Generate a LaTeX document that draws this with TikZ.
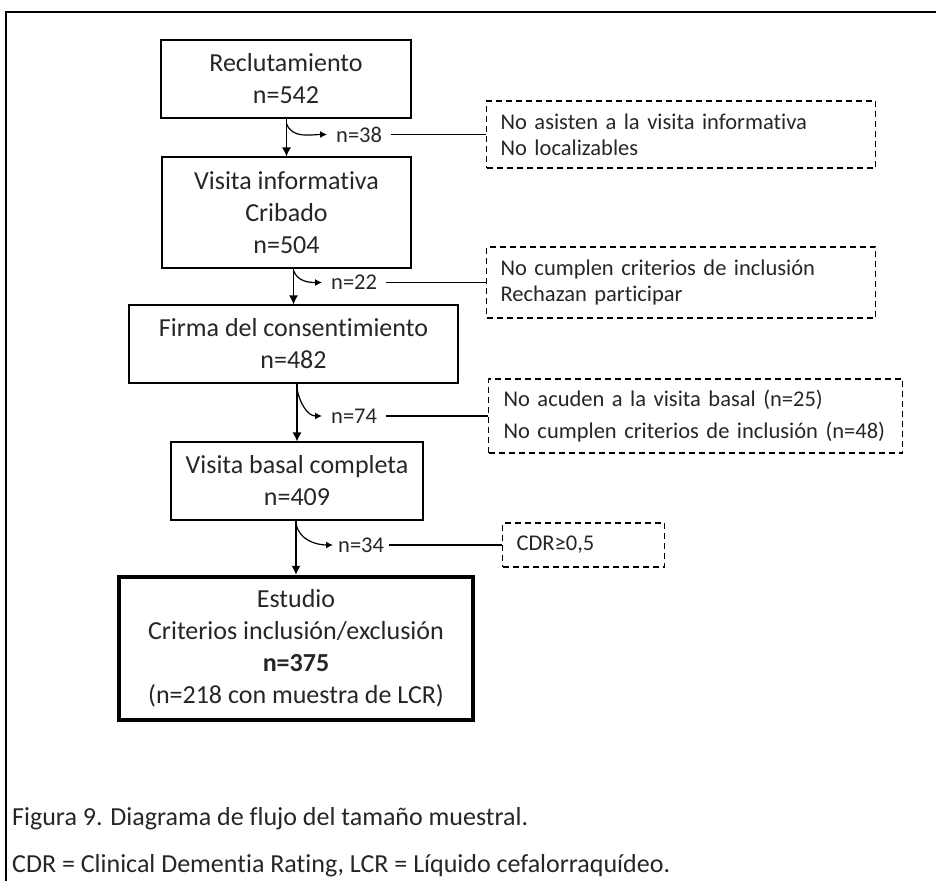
\documentclass[tikz,border=0pt]{standalone}
\usepackage{fontspec}
\setmainfont{Carlito}[RawFeature={-liga;-clig;-dlig;-calt}]
\usepackage{tikz}
\usetikzlibrary{positioning}
\usetikzlibrary{arrows.meta}
\usetikzlibrary{calc}

\tikzset{
stage/.style={draw, line width=1.2pt, align=center, inner sep=0pt, text=black!85, font=\fontsize{26}{32}\selectfont},
lost/.style={draw, dash pattern=on 6pt off 4pt, line width=1.2pt, align=left, inner ysep=0pt, anchor=west, text=black!85, font=\fontsize{22.5}{26}\selectfont},
nlab/.style={inner xsep=9pt, inner ysep=0pt, anchor=west, text=black!85, font=\fontsize{22.5}{26}\selectfont},
flow/.style={-{Latex[length=9pt,width=9pt]}, line width=1.2pt},
exit/.style={-{Latex[length=7pt,width=7pt]}, line width=1.2pt},
note/.style={anchor=base west, inner sep=0pt, text=black!85, font=\fontsize{26}{32}\selectfont}
}

\begin{document}
\begin{tikzpicture}[x=1pt,y=1pt]
\useasboundingbox (0,0) rectangle (936,-881);
\draw[line width=1.5pt] (6,-881) -- (6,-12) -- (936,-12);

\node[stage, minimum width=250pt, minimum height=78pt] (reclut) at (286,-79) {Reclutamiento\\n=542};
\node[stage, minimum width=249pt, minimum height=111pt] (cribado) at (286.5,-212.5) {Visita informativa\\Cribado\\n=504};
\node[stage, minimum width=329pt, minimum height=78pt] (firma) at (293.5,-344) {Firma del consentimiento\\n=482};
\node[stage, minimum width=252pt, minimum height=78pt] (basal) at (297,-481) {Visita basal completa\\n=409};
\node[stage, draw=black, line width=4.5pt, minimum width=354pt, minimum height=143pt] (estudio) at (296,-648.5) {Estudio\\Criterios inclusión/exclusión\\\textbf{n=375}\\(n=218 con muestra de LCR)};

\node[lost, text width=361pt, inner xsep=14pt, minimum height=67pt] (noasist) at (486,-134.5) {No asisten a la visita informativa\\No localizables};
\node[lost, text width=361pt, inner xsep=14pt, minimum height=71pt] (nocumple) at (486,-282.5) {No cumplen criterios de inclusión\\Rechazan participar};
\node[lost, text width=384pt, inner xsep=15pt, minimum height=74pt, font=\fontsize{22.5}{32}\selectfont] (noacude) at (488,-416) {No acuden a la visita basal (n=25)\\No cumplen criterios de inclusión (n=48)};
\node[lost, text width=134pt, inner xsep=14pt, minimum height=44pt] (cdr) at (502,-545) {CDR≥0,5};

\node[nlab] (n38) at (327,-134.5) {n=38};
\node[nlab] (n22) at (322,-282.5) {n=22};
\node[nlab] (n74) at (322,-416) {n=74};
\node[nlab, inner xsep=5pt] (n34) at (333,-545) {n=34};

\draw[flow] (cribado.north |- reclut.south) -- (cribado.north);
\draw[flow] (firma.north |- cribado.south) -- (firma.north);
\draw[flow] (basal.north |- firma.south) -- (basal.north);
\draw[flow] (estudio.north |- basal.south) -- (estudio.north);

\coordinate (out1) at ($(cribado.north |- reclut.south)+(0,-5)$);
\coordinate (out2) at ($(firma.north |- cribado.south)+(0,-2)$);
\coordinate (out3) at ($(basal.north |- firma.south)+(0,-5)$);
\coordinate (out4) at ($(estudio.north |- basal.south)+(0,-3)$);

\draw[exit] (out1) to[out=-70,in=180] (n38.west);
\draw[exit] (out2) to[out=-70,in=180] (n22.west);
\draw[exit] (out3) to[out=-80,in=180] (n74.west);
\draw[exit] (out4) to[out=-80,in=180] (n34.west);

\draw[line width=1.2pt] (n38.east) -- (noasist.west);
\draw[line width=1.2pt] (n22.east) -- (nocumple.west);
\draw[line width=1.2pt] (n74.east) -- (noacude.west);
\draw[line width=1.2pt] (n34.east) -- (cdr.west);

\node[note] (fig) at (12,-825) {Figura 9. Diagrama de flujo del tamaño muestral.};
\node[note] (abbr) at (12,-872) {CDR = Clinical Dementia Rating, LCR = Líquido cefalorraquídeo.};
\end{tikzpicture}
\end{document}
